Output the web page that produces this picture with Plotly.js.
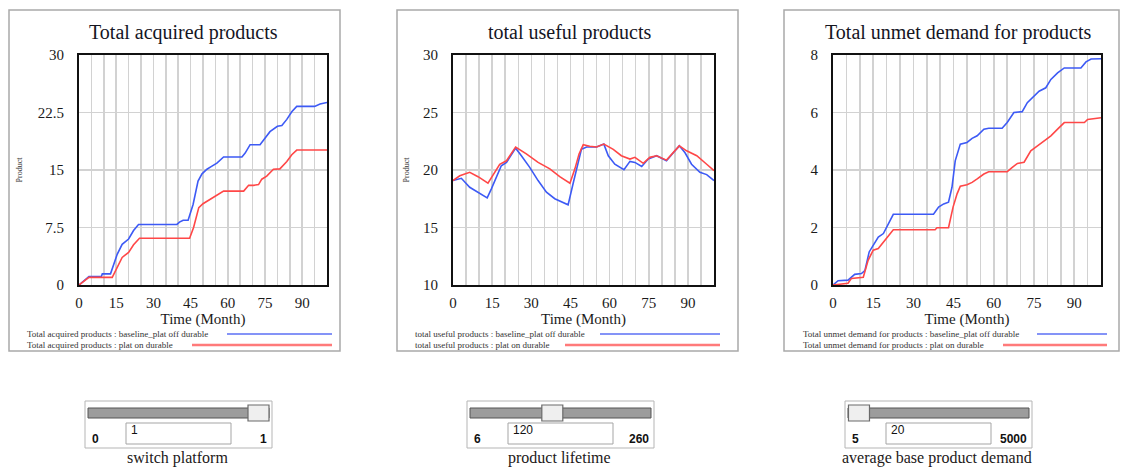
<!DOCTYPE html>
<html><head><meta charset="utf-8">
<script src="https://cdn.plot.ly/plotly-3.0.1.min.js"></script>
<style>html,body{margin:0;padding:0;background:#fff;}#chart{width:1121px;height:468px;}</style>
</head><body><div id="chart"></div>
<script>
// ---------- DATA ----------
const seriesNames = ['baseline_plat off durable', 'plat on durable'];
const panelTitles = ['Total acquired products', 'total useful products', 'Total unmet demand for products'];
const xTitle = 'Time (Month)';
const yTitle = 'Product';

// Total acquired products
const acqMonthsBase = [0,4,9,9.4,12.7,15.4,17.4,20,22,24,39.5,40.5,42,44,46,48,49.6,51.6,53.6,55.6,58.3,65.7,67,69,73,75,77,80,81.8,83.8,85.8,87.8,95,97.2,99.2,100];
const acqBase = [0,1.1,1.1,1.45,1.45,4.0,5.3,6.0,7.1,7.9,7.9,8.2,8.45,8.45,10.5,13.55,14.5,15.1,15.5,15.9,16.7,16.7,17.2,18.3,18.3,19.2,20.0,20.7,20.8,21.6,22.6,23.3,23.3,23.6,23.8,23.8];
const acqMonthsPlat = [0,4,13.4,15.4,17.4,20,22,24.4,44.6,46.2,48.3,50,52.3,54.3,56.3,58.3,66.4,68.4,70.4,72.4,73.7,75.7,78.4,81,83.8,85.8,87.8,100];
const acqPlat = [0,1.0,1.0,2.3,3.6,4.25,5.25,6.1,6.1,7.5,10.1,10.6,11.05,11.5,11.8,12.25,12.25,13.0,13.0,13.1,13.8,14.2,15.1,15.15,16.1,17.0,17.6,17.6];

// total useful products
const useMonthsBase = [0,3.2,6.4,9.6,12.8,13.1,14.7,16.6,18.5,20.5,22.4,24,26.2,29.4,32.6,35.8,39,42.2,44.1,46,48,49.2,51.2,55,57.8,59.5,62,65.5,67.8,69.7,72.3,74.8,78,81.8,84.4,86.7,88.9,91.4,94.6,97.2,100];
const useBase = [19.08,19.28,18.5,18.07,17.64,17.58,18.36,19.37,20.37,20.66,21.4,21.9,21.24,20.23,19.08,18.07,17.5,17.2,16.97,18.8,20.8,21.8,22.0,22.0,22.25,21.24,20.5,20.03,20.75,20.66,20.3,20.95,21.24,20.8,21.5,22.1,21.5,20.5,19.8,19.6,19.08];
const useMonthsPlat = [0,2.6,6.4,9.6,13.4,15.3,17.9,20.5,24,28.1,32.6,37.1,40.9,44.8,46.7,48.3,49.9,52.4,55,57.8,61.4,64.5,67.8,69.7,72.9,75.4,78,81.8,86.7,89.5,93.4,97.2,100];
const usePlat = [19.08,19.5,19.8,19.42,18.85,19.5,20.5,20.8,22.0,21.4,20.66,20.1,19.42,18.85,20.1,21.4,22.2,22.07,22.0,22.25,21.8,21.24,20.95,21.1,20.58,21.1,21.24,20.86,22.1,21.67,21.24,20.5,19.94];

// Total unmet demand for products
const unmetMonthsBase = [0,1.9,5.6,6.9,8.1,10.6,11.9,13.5,15,16.9,18.8,20.6,22.5,37.5,39.4,41.3,43.1,44.4,45.6,47.5,50,51.9,53.8,56.3,58.1,63.1,65,67.5,70.6,72.5,75,76.9,79.4,81.3,83.8,86.3,92.5,94.4,96.3,100];
const unmetBase = [0,0.15,0.17,0.26,0.37,0.4,0.5,1.15,1.38,1.67,1.79,2.13,2.46,2.46,2.71,2.82,2.88,3.4,4.32,4.9,4.96,5.1,5.19,5.42,5.45,5.45,5.65,6.0,6.03,6.34,6.57,6.74,6.86,7.15,7.38,7.55,7.55,7.76,7.86,7.87];
const unmetMonthsPlat = [0,5.6,6.9,11.3,13.1,15,16.9,18.8,20.6,22.5,38.1,38.8,43.1,44.8,46.3,47.5,50,51.9,53.8,56.3,58.1,65,66.9,68.8,71.3,73.8,76.3,78.8,81.3,83.8,86.3,93.8,95,100];
const unmetPlat = [0,0.06,0.23,0.27,0.86,1.21,1.27,1.5,1.73,1.92,1.92,1.99,1.99,2.71,3.17,3.44,3.49,3.57,3.69,3.86,3.94,3.94,4.09,4.23,4.27,4.67,4.84,5.01,5.19,5.42,5.65,5.65,5.76,5.82];

const yRanges = [[0,30],[10,30],[0,8]];
const yDticks = [7.5,5,2];

// Sliders
const sliderNames = ['switch platform','product lifetime','average base product demand'];
const sliderValues = [1,120,20];
const sliderMins = [0,6,5];
const sliderMaxs = [1,260,5000];

// ---------- LAYOUT ----------
const W=1121,H=468;
const px=x=>x/W, py=y=>1-y/H;
const SERIF='Liberation Serif, Times New Roman, serif';
const NARROW='Liberation Sans Narrow, Liberation Sans, Arial, sans-serif';
const BLUE='#3d5af5', RED='#ff4747';
const GRID='#d2d2d2';

const xs=[[acqMonthsBase,acqMonthsPlat],[useMonthsBase,useMonthsPlat],[unmetMonthsBase,unmetMonthsPlat]];
const ys=[[acqBase,acqPlat],[useBase,usePlat],[unmetBase,unmetPlat]];

const geo=[
  {box:[9,10,340,351], plot:[79,327,55,285], titleX:183, leg:{tx:25,bl:227,rl:192,end:332}, ytit:true, ystand:14},
  {box:[397,10,738,351], plot:[453,714,55,285], titleX:570, leg:{tx:413,bl:600,rl:565,end:720}, ytit:true, ystand:12},
  {box:[784,10,1119,351], plot:[833,1101,55,285], titleX:958, leg:{tx:801,bl:1037,rl:1003,end:1107}, ytit:false, ystand:10}
];

const traces=[], shapes=[], annotations=[];
const layout={width:W,height:H,margin:{l:0,r:0,t:0,b:0},paper_bgcolor:'#fff',plot_bgcolor:'#fff',showlegend:false,
  font:{family:SERIF}};

geo.forEach((g,i)=>{
  const sfx = i===0?'':String(i+1);
  shapes.push({type:'rect',xref:'paper',yref:'paper',x0:px(g.box[0]),x1:px(g.box[2]),y0:py(g.box[3]),y1:py(g.box[1]),line:{color:'#a9a9a9',width:1.5},fillcolor:'rgba(0,0,0,0)',layer:'below'});
  layout['xaxis'+sfx]={
    domain:[px(g.plot[0]),px(g.plot[1])], anchor:'y'+sfx, range:[0,100],
    tick0:0, dtick:15, showgrid:true, gridcolor:GRID, gridwidth:1.5,
    minor:{tick0:0,dtick:5,showgrid:true,gridcolor:GRID,gridwidth:1.5},
    zeroline:false, showline:true, mirror:true, linecolor:'#111', linewidth:2,
    ticks:'', ticklabelstandoff:3,
    tickfont:{family:SERIF,size:15,color:'#1a1a1a'},
    title:{text:xTitle,font:{family:SERIF,size:15,color:'#1a1a1a'},standoff:1},
    fixedrange:true
  };
  layout['yaxis'+sfx]={
    domain:[py(g.plot[3]),py(g.plot[2])], anchor:'x'+sfx, range:yRanges[i],
    tick0:0, dtick:yDticks[i], showgrid:true, gridcolor:GRID, gridwidth:1.5,
    zeroline:false, showline:true, mirror:true, linecolor:'#111', linewidth:2,
    ticks:'', ticklabelstandoff:10,
    tickfont:{family:SERIF,size:15,color:'#1a1a1a'},
    title:{text:g.ytit?yTitle:'',font:{family:SERIF,size:8,color:'#333'},standoff:g.ystand},
    fixedrange:true
  };
  [BLUE,RED].forEach((c,k)=>{
    traces.push({type:'scatter',mode:'lines',x:xs[i][k],y:ys[i][k],xaxis:'x'+sfx,yaxis:'y'+sfx,
      name:panelTitles[i]+' : '+seriesNames[k],line:{color:c,width:1.6},hoverinfo:'skip'});
  });
  annotations.push({xref:'paper',yref:'paper',x:px(g.titleX),y:py(33),xanchor:'center',yanchor:'middle',showarrow:false,
    text:panelTitles[i],font:{family:SERIF,size:20,color:'#15151f'}});
  const rows=[334,345], lcol=['#5b6ff5','#ff7a7a'], lw=[1.5,2.5], ls=[g.leg.bl,g.leg.rl];
  [0,1].forEach(k=>{
    annotations.push({xref:'paper',yref:'paper',x:px(g.leg.tx),y:py(rows[k]),xanchor:'left',yanchor:'middle',showarrow:false,
      text:panelTitles[i]+' : '+seriesNames[k],font:{family:SERIF,size:9,color:'#333'}});
    shapes.push({type:'line',xref:'paper',yref:'paper',x0:px(ls[k]),x1:px(g.leg.end),y0:py(rows[k]),y1:py(rows[k]),line:{color:lcol[k],width:lw[k]}});
  });
});

const sliderLefts=[85,467,845];
sliderLefts.forEach((Lb,i)=>{
  shapes.push({type:'rect',xref:'paper',yref:'paper',x0:px(Lb),x1:px(Lb+187),y0:py(448),y1:py(401),line:{color:'#b5b5b5',width:1},fillcolor:'#fff'});
  const tl=Lb+3, tr=Lb+184, tw=21;
  shapes.push({type:'rect',xref:'paper',yref:'paper',x0:px(tl),x1:px(tr),y0:py(418),y1:py(408),line:{color:'#555',width:1},fillcolor:'#9c9c9c'});
  const frac=(sliderValues[i]-sliderMins[i])/(sliderMaxs[i]-sliderMins[i]);
  const th=tl+frac*(tr-tl-tw);
  shapes.push({type:'rect',xref:'paper',yref:'paper',x0:px(th),x1:px(th+tw),y0:py(421),y1:py(405),line:{color:'#6a6a6a',width:1.2},fillcolor:'#efefef'});
  shapes.push({type:'rect',xref:'paper',yref:'paper',x0:px(Lb+41),x1:px(Lb+146),y0:py(444),y1:py(423),line:{color:'#a5a5a5',width:1},fillcolor:'#fff'});
  annotations.push({xref:'paper',yref:'paper',x:px(Lb+44),y:py(430),xanchor:'left',yanchor:'middle',showarrow:false,
    text:String(sliderValues[i]),font:{family:NARROW,size:12,color:'#111'}});
  annotations.push({xref:'paper',yref:'paper',x:px(Lb+5),y:py(439),xanchor:'left',yanchor:'middle',showarrow:false,
    text:'<b>'+sliderMins[i]+'</b>',font:{family:NARROW,size:12,color:'#111'}});
  annotations.push({xref:'paper',yref:'paper',x:px(Lb+184),y:py(439),xanchor:'right',yanchor:'middle',showarrow:false,
    text:'<b>'+sliderMaxs[i]+'</b>',font:{family:NARROW,size:12,color:'#111'}});
  annotations.push({xref:'paper',yref:'paper',x:px(Lb+92),y:py(458),xanchor:'center',yanchor:'middle',showarrow:false,
    text:sliderNames[i],font:{family:SERIF,size:16,color:'#221818'}});
});

layout.shapes=shapes; layout.annotations=annotations;
Plotly.newPlot('chart',traces,layout,{staticPlot:true,displayModeBar:false});
</script></body></html>
